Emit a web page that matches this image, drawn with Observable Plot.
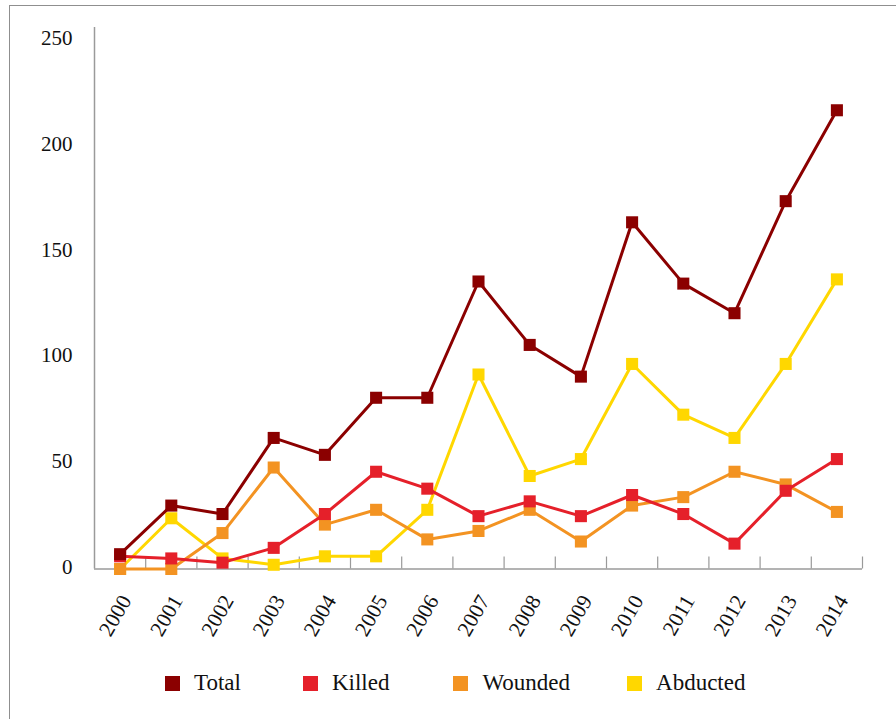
<!DOCTYPE html>
<html>
<head>
<meta charset="utf-8">
<script src="https://cdn.jsdelivr.net/npm/d3@7"></script>
<script src="https://cdn.jsdelivr.net/npm/@observablehq/plot@0.6"></script>
<style>
  html, body { margin: 0; padding: 0; background: #fff; overflow: hidden; }
  body { width: 896px; height: 719px; position: relative; font-family: "Liberation Serif", "Times New Roman", serif; }
  #frame { position: absolute; left: 9px; top: 5px; width: 900px; height: 730px; border: 1.5px solid #8f8f8f; box-sizing: border-box; }
  #chart { position: absolute; left: 0; top: 0; }
  #legend { position: absolute; left: 165px; top: 670px; display: flex; align-items: center; font-size: 23px; color: #111; }
  .item { display: flex; align-items: center; }
  .sw { width: 15px; height: 15px; margin-right: 14px; }
</style>
</head>
<body>
<div id="frame"></div>
<div id="chart"></div>
<div id="legend"></div>
<script>
const years = [2000, 2001, 2002, 2003, 2004, 2005, 2006, 2007, 2008, 2009, 2010, 2011, 2012, 2013, 2014];
const total    = [7, 30, 26, 62, 54, 81, 81, 136, 106, 91, 164, 135, 121, 174, 217];
const killed   = [6, 5, 3, 10, 26, 46, 38, 25, 32, 25, 35, 26, 12, 37, 52];
const wounded  = [0, 0, 17, 48, 21, 28, 14, 18, 28, 13, 30, 34, 46, 40, 27];
const abducted = [0, 24, 5, 2, 6, 6, 28, 92, 44, 52, 97, 73, 62, 97, 137];
const seriesNames = ["Total", "Killed", "Wounded", "Abducted"];
const seriesColors = ["#8b0000", "#e5202a", "#f39322", "#ffd700"];
const yTicks = [0, 50, 100, 150, 200, 250];

const seriesValues = {Total: total, Killed: killed, Wounded: wounded, Abducted: abducted};
const data = seriesNames.flatMap(s => years.map((yr, i) => ({year: yr, value: seriesValues[s][i], series: s})));
const boundaries = years.map(y => y - 0.5).concat([years[years.length - 1] + 0.5]);

const W = 896, H = 650, mTop = 40, mBottom = 81.5, mLeft = 94, mRight = 34;
const innerH = H - mTop - mBottom;
const axisColor = "#9a9a9a";

const drawOrder = ["Abducted", "Wounded", "Killed", "Total"];
const seriesMarks = drawOrder.flatMap(s => {
  const d = data.filter(r => r.series === s);
  return [
    Plot.line(d, {x: "year", y: "value", stroke: "series", strokeWidth: 3}),
    Plot.dot(d, {x: "year", y: "value", fill: "series", symbol: "square", r: 6.8})
  ];
});

const chart = Plot.plot({
  width: W,
  height: H,
  marginTop: mTop,
  marginBottom: mBottom,
  marginLeft: mLeft,
  marginRight: mRight,
  style: {fontFamily: "'Liberation Serif', 'Times New Roman', serif", fontSize: "21px", color: "#111", background: "transparent", overflow: "visible"},
  x: {type: "linear", domain: [boundaries[0], boundaries[boundaries.length - 1]]},
  y: {domain: [0, 250]},
  color: {domain: seriesNames, range: seriesColors},
  marks: [
    Plot.axisY({ticks: yTicks, tickSize: 0, tickPadding: 22, fontSize: 21, dy: -2, label: null, tickFormat: d3.format("d")}),
    Plot.axisX({ticks: years, tickSize: 0, tickPadding: 28, tickRotate: -60, dx: 6, fontSize: 21.5, label: null, tickFormat: d => String(d)}),
    Plot.ruleX([boundaries[0]], {stroke: axisColor, strokeWidth: 1.5, insetTop: -13}),
    Plot.ruleX(boundaries.slice(1), {stroke: axisColor, strokeWidth: 1.2, insetTop: innerH - 12}),
    Plot.ruleY([0], {stroke: axisColor, strokeWidth: 1.5}),
    ...seriesMarks
  ]
});
document.getElementById("chart").appendChild(chart);

const legend = document.getElementById("legend");
const gaps = [62, 64, 57];
seriesNames.forEach((s, i) => {
  const item = document.createElement("div");
  item.className = "item";
  if (i > 0) item.style.marginLeft = gaps[i - 1] + "px";
  const sw = document.createElement("div");
  sw.className = "sw";
  sw.style.background = seriesColors[i];
  const t = document.createElement("span");
  t.textContent = s;
  item.appendChild(sw);
  item.appendChild(t);
  legend.appendChild(item);
});
</script>
</body>
</html>
